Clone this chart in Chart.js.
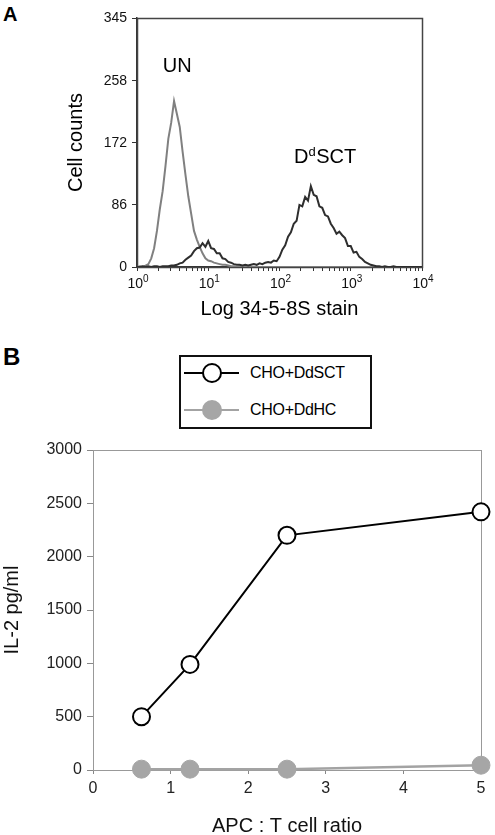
<!DOCTYPE html>
<html>
<head>
<meta charset="utf-8">
<script src="https://cdn.jsdelivr.net/npm/chart.js@4.4.1/dist/chart.umd.min.js"></script>
<style>
  html, body { margin: 0; padding: 0; background: #fff; overflow: hidden; }
  body { width: 495px; height: 835px; position: relative; font-family: "Liberation Sans", Arial, sans-serif; color: #000; }
  .panel-letter { position: absolute; left: 3px; font-weight: bold; line-height: 1; }
  #wrapA { position: absolute; left: 0; top: 0; }
  #wrapB { position: absolute; left: 0; top: 430px; }
  #legendB { position: absolute; left: 179px; top: 355px; width: 193px; height: 74px; box-sizing: border-box; border: 2px solid #111; background: #fff; }
  .leg-row { position: absolute; left: 0; width: 189px; height: 28px; }
  .leg-line { position: absolute; left: 3px; top: 13px; width: 55px; height: 2px; }
  .leg-dot { position: absolute; left: 21px; top: 4px; width: 20px; height: 20px; border-radius: 50%; box-sizing: border-box; border: 2px solid; }
  .leg-text { position: absolute; left: 69px; top: 0; line-height: 28px; font-size: 16px; letter-spacing: -0.3px; }
</style>
</head>
<body>
<div class="panel-letter" style="top:4px;font-size:20px;">A</div>
<div id="wrapA"><canvas id="histA" width="495" height="330"></canvas></div>

<div class="panel-letter" style="top:345px;font-size:24px;">B</div>
<div id="legendB"></div>
<div id="wrapB"><canvas id="il2B" width="495" height="408"></canvas></div>

<script>
const FONT = '"Liberation Sans", Arial, Helvetica, sans-serif';

// ---- Panel A : 34-5-8S staining histogram ----
const channels = [
  1, 1.096, 1.202, 1.318, 1.445, 1.585, 1.738, 1.905, 2.089, 2.291, 2.512, 2.754, 3.020, 3.311, 3.631, 3.981, 4.365, 4.786, 5.248, 5.754, 6.310, 6.918, 7.586, 8.318, 9.120,
  10, 10.96, 12.02, 13.18, 14.45, 15.85, 17.38, 19.05, 20.89, 22.91, 25.12, 27.54, 30.20, 33.11, 36.31, 39.81, 43.65, 47.86, 52.48, 57.54, 63.10, 69.18, 75.86, 83.18, 91.20,
  100, 109.6, 120.2, 131.8, 144.5, 158.5, 173.8, 190.5, 208.9, 229.1, 251.2, 275.4, 302.0, 331.1, 363.1, 398.1, 436.5, 478.6, 524.8, 575.4, 631.0, 691.8, 758.6, 831.8, 912.0,
  1000, 1096, 1202, 1318, 1445, 1585, 1738, 1905, 2089, 2291, 2512, 2754, 3020, 3311, 3631, 3981, 4365, 4786, 5248, 5754, 6310, 6918, 7586, 8318, 9120, 10000
];
const unstained = [
  0, 1, 0, 2, 4, 12, 26, 50, 80, 105, 140, 178, 200, 230, 212, 194, 160, 128, 98, 74, 50, 38, 28, 19, 12,
  9, 8, 6, 5, 4, 3, 3, 2, 1, 1, 0, 1, 0, 0, 1, 0, 0, 0, 0, 0, 0, 0, 0, 0, 0,
  0, 0, 0, 0, 0, 0, 0, 0, 0, 0, 0, 0, 0, 0, 0, 0, 0, 0, 0, 0, 0, 0, 0, 0, 0,
  0, 0, 0, 0, 0, 0, 0, 0, 0, 0, 0, 0, 0, 0, 0, 0, 0, 0, 0, 0, 0, 0, 0, 0, 0, 0
];
const ddSCT = [
  0, 0, 1, 0, 1, 0, 1, 1, 0, 1, 1, 1, 2, 2, 3, 5, 6, 10, 13, 16, 22, 26, 27, 33, 28,
  36, 26, 25, 19, 19, 12, 11, 7, 6, 4, 3, 3, 2, 3, 2, 3, 4, 3, 5, 4, 6, 7, 6, 9, 8,
  14, 24, 30, 42, 48, 60, 64, 86, 84, 97, 92, 112, 100, 98, 84, 82, 72, 70, 60, 54, 46, 49, 44, 40, 29,
  29, 20, 21, 14, 11, 7, 5, 3, 2, 1, 1, 0, 1, 0, 0, 1, 0, 0, 0, 0, 0, 0, 0, 0, 0, 0
];
const xDecades = [0, 1, 2, 3, 4];
const yTicksA = [0, 86, 172, 258, 345];

// ---- Panel B : IL-2 release ----
const apcRatio = [0.625, 1.25, 2.5, 5];
const il2SCT = [500, 990, 2200, 2420];
const il2HC = [8, 8, 8, 45];
const xTicksB = [0, 1, 2, 3, 4, 5];
const yTicksB = [0, 500, 1000, 1500, 2000, 2500, 3000];

// box round the plot area
const framePlugin = {
  id: 'frame',
  beforeDatasetsDraw(chart, args, opts) {
    const { ctx, chartArea: a } = chart;
    const off = opts.width % 2 ? 0.5 : 0;
    ctx.save();
    ctx.strokeStyle = opts.color;
    ctx.lineWidth = opts.width;
    ctx.strokeRect(Math.round(a.left) + off, Math.round(a.top) + off,
      Math.round(a.right - a.left), Math.round(a.bottom - a.top));
    ctx.restore();
  }
};

// 10^n labels under the log axis
const decadeLabels = {
  id: 'decadeLabels',
  afterDraw(chart) {
    const xs = chart.scales.x;
    const ctx = chart.ctx;
    ctx.save();
    ctx.fillStyle = '#111';
    ctx.textBaseline = 'alphabetic';
    ctx.textAlign = 'left';
    xDecades.forEach(e => {
      const px = xs.getPixelForValue(Math.pow(10, e));
      ctx.font = '14px ' + FONT;
      const wBase = ctx.measureText('10').width;
      ctx.font = '10px ' + FONT;
      const wExp = ctx.measureText(String(e)).width;
      const x0 = px - (wBase + wExp) / 2 + 1;
      ctx.font = '14px ' + FONT;
      ctx.fillText('10', x0, xs.top + 21);
      ctx.font = '10px ' + FONT;
      ctx.fillText(String(e), x0 + wBase, xs.top + 15);
    });
    ctx.restore();
  }
};

// peak names written inside the histogram
const peakNames = [
  { x: 2.3, y: 270, parts: [['UN', false]] },
  { x: 160, y: 144, parts: [['D', false], ['d', true], ['SCT', false]] }
];
const peakLabels = {
  id: 'peakLabels',
  afterDatasetsDraw(chart) {
    const { ctx, scales } = chart;
    ctx.save();
    ctx.fillStyle = '#000';
    ctx.textAlign = 'left';
    ctx.textBaseline = 'alphabetic';
    peakNames.forEach(lbl => {
      let x = scales.x.getPixelForValue(lbl.x);
      const y = scales.y.getPixelForValue(lbl.y);
      lbl.parts.forEach(([txt, sup]) => {
        ctx.font = (sup ? '13px ' : '20px ') + FONT;
        ctx.fillText(txt, x, sup ? y - 7 : y);
        x += ctx.measureText(txt).width + (sup ? 0.5 : 0);
      });
    });
    ctx.restore();
  }
};

const minorTicks = [];
xDecades.forEach(e => {
  minorTicks.push(Math.pow(10, e));
  if (e < 4) for (let m = 2; m <= 9; m++) minorTicks.push(m * Math.pow(10, e));
});

new Chart(document.getElementById('histA'), {
  type: 'line',
  data: {
    datasets: [
      {
        label: 'DdSCT',
        data: channels.map((c, i) => ({ x: c, y: ddSCT[i] })),
        borderColor: '#2e2e2e',
        borderWidth: 2,
        pointRadius: 0,
        tension: 0
      },
      {
        label: 'UN',
        data: channels.map((c, i) => ({ x: c, y: unstained[i] })),
        borderColor: '#808080',
        borderWidth: 2,
        pointRadius: 0,
        tension: 0
      }
    ]
  },
  options: {
    responsive: false,
    animation: false,
    layout: { padding: { left: 0, top: 18, right: 73, bottom: 0 } },
    plugins: {
      legend: { display: false },
      tooltip: { enabled: false },
      frame: { color: '#444', width: 1.5 }
    },
    scales: {
      x: {
        type: 'logarithmic',
        min: 1,
        max: 10000,
        afterFit(scale) { scale.height = 63; },
        afterBuildTicks(scale) { scale.ticks = minorTicks.map(v => ({ value: v })); },
        ticks: { autoSkip: false, callback: () => '' },
        grid: { display: true, drawOnChartArea: false, drawTicks: true, tickLength: 4, tickColor: '#333' },
        border: { display: true, color: '#333', width: 1.5 },
        title: {
          display: true,
          text: 'Log 34-5-8S stain',
          color: '#000',
          font: { family: FONT, size: 20 },
          padding: { top: 0, bottom: 9 }
        }
      },
      y: {
        min: 0,
        max: 345,
        afterFit(scale) { scale.width = 137; },
        afterBuildTicks(scale) { scale.ticks = yTicksA.map(v => ({ value: v })); },
        ticks: { color: '#111', padding: 5, font: { family: FONT, size: 14 }, callback: v => String(v) },
        grid: { display: true, drawOnChartArea: false, drawTicks: true, tickLength: 5, tickColor: '#333' },
        border: { display: true, color: '#333', width: 1.5 },
        title: {
          display: true,
          text: 'Cell counts',
          color: '#000',
          font: { family: FONT, size: 20 },
          padding: { top: 64, bottom: 0 }
        }
      }
    }
  },
  plugins: [framePlugin, decadeLabels, peakLabels]
});

const chartB = new Chart(document.getElementById('il2B'), {
  type: 'line',
  data: {
    datasets: [
      {
        label: 'CHO+DdSCT',
        data: apcRatio.map((r, i) => ({ x: r, y: il2SCT[i] })),
        borderColor: '#000',
        borderWidth: 2,
        pointRadius: 8.5,
        pointBackgroundColor: '#fff',
        pointBorderColor: '#000',
        pointBorderWidth: 2,
        tension: 0,
        clip: false
      },
      {
        label: 'CHO+DdHC',
        data: apcRatio.map((r, i) => ({ x: r, y: il2HC[i] })),
        borderColor: '#a3a3a3',
        borderWidth: 2.5,
        pointRadius: 9,
        pointBackgroundColor: '#a6a6a6',
        pointBorderColor: '#a6a6a6',
        pointBorderWidth: 1,
        tension: 0,
        clip: false
      }
    ]
  },
  options: {
    responsive: false,
    animation: false,
    layout: { padding: { left: 0, top: 20, right: 14, bottom: 0 } },
    plugins: {
      legend: { display: false },
      tooltip: { enabled: false },
      frame: { color: '#999', width: 1 }
    },
    scales: {
      x: {
        type: 'linear',
        min: 0,
        max: 5,
        afterFit(scale) { scale.height = 68; },
        afterBuildTicks(scale) { scale.ticks = xTicksB.map(v => ({ value: v })); },
        ticks: { color: '#222', padding: 5, font: { family: FONT, size: 16 }, callback: v => String(v) },
        grid: { display: true, drawOnChartArea: false, drawTicks: true, tickLength: 4, tickColor: '#888' },
        border: { display: true, color: '#888', width: 1 },
        title: {
          display: true,
          text: 'APC : T cell ratio',
          color: '#111',
          font: { family: FONT, size: 20 },
          padding: { top: 0, bottom: 0 }
        }
      },
      y: {
        min: 0,
        max: 3000,
        afterFit(scale) { scale.width = 93; },
        afterBuildTicks(scale) { scale.ticks = yTicksB.map(v => ({ value: v })); },
        ticks: { color: '#222', padding: 5, font: { family: FONT, size: 16 }, callback: v => String(v) },
        grid: { display: true, drawOnChartArea: false, drawTicks: true, tickLength: 6, tickColor: '#888' },
        border: { display: true, color: '#888', width: 1 },
        title: {
          display: true,
          text: 'IL-2 pg/ml',
          color: '#111',
          font: { family: FONT, size: 20 },
          padding: { top: 0, bottom: 0 }
        }
      }
    }
  },
  plugins: [framePlugin]
});

// boxed legend above panel B, built from the datasets
const legendBox = document.getElementById('legendB');
chartB.data.datasets.forEach((ds, i) => {
  const row = document.createElement('div');
  row.className = 'leg-row';
  row.style.top = (i === 0 ? 2 : 39) + 'px';
  row.innerHTML = `
    <span class="leg-line" style="background:${ds.borderColor}"></span>
    <span class="leg-dot" style="background:${ds.pointBackgroundColor};border-color:${ds.pointBorderColor}"></span>
    <span class="leg-text">${ds.label}</span>`;
  legendBox.appendChild(row);
});
</script>
</body>
</html>
